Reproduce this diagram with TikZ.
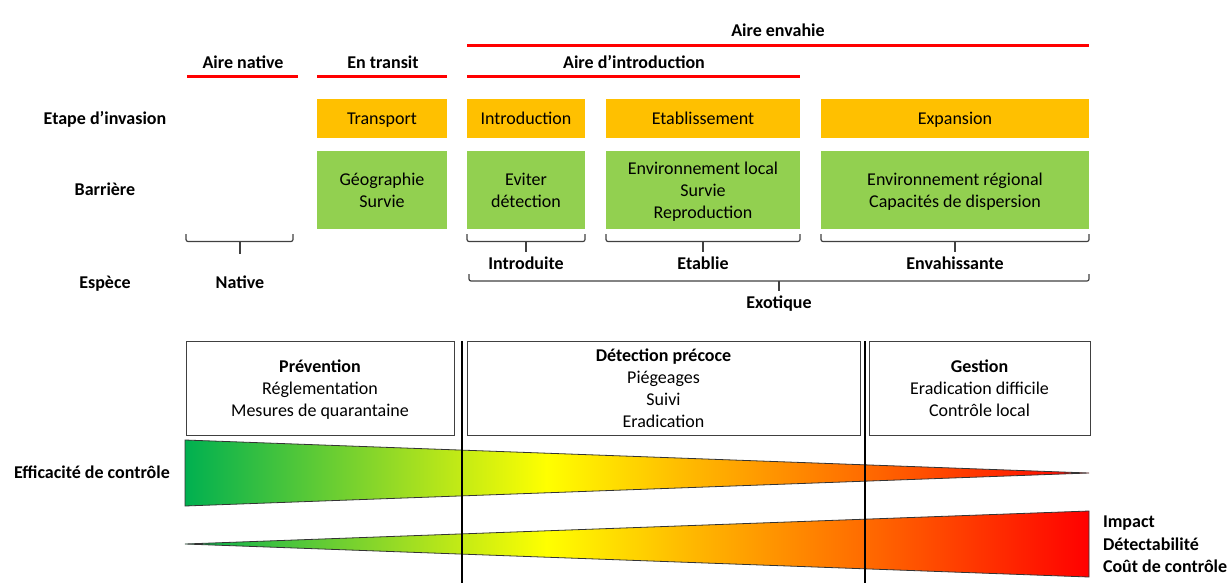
\documentclass[tikz,border=0pt]{standalone}
\usepackage{fontspec}
\setmainfont{Carlito}

\definecolor{stepOrange}{HTML}{FFC000}
\definecolor{barrierGreen}{HTML}{92D050}
\definecolor{bracketGray}{HTML}{404040}
\definecolor{controlGreen}{HTML}{00B050}
\definecolor{lightGreen}{HTML}{8ED828}
\definecolor{brightYellow}{HTML}{FFFF00}
\definecolor{amberOrange}{HTML}{FFC000}
\definecolor{deepOrange}{HTML}{FF7000}
\definecolor{pureRed}{HTML}{FF0000}

\pgfdeclarehorizontalshading{invasion}{100bp}{color(0bp)=(controlGreen); color(25bp)=(controlGreen); color(36bp)=(lightGreen); color(45bp)=(brightYellow); color(52bp)=(amberOrange); color(62bp)=(deepOrange); color(75bp)=(pureRed); color(100bp)=(pureRed)}

\begin{document}
\begin{tikzpicture}[x=0.5pt, y=-0.5pt,
    every node/.style={font=\fontsize{9}{11}\selectfont, inner sep=0pt, outer sep=0pt},
    boldText/.style={font=\fontsize{9}{11}\selectfont\bfseries, text height=7pt, text depth=1.2pt},
    areaLine/.style={red, line width=1.5pt},
    stepBox/.style={fill=stepOrange, minimum height=19.5pt, anchor=north west, text height=7pt, text depth=1.2pt},
    barrierBox/.style={fill=barrierGreen, minimum height=39pt, anchor=north west, align=center, text depth=0pt},
    bracket/.style={draw=bracketGray, line width=0.6pt, rounded corners=1pt},
    actionBox/.style={draw=bracketGray, line width=0.5pt, minimum height=47pt, anchor=north west, align=center, text depth=0pt},
    divider/.style={black, line width=1pt},
    wedge/.style={shading=invasion, draw=black!80, line width=0.4pt}]
    \useasboundingbox (0,0) rectangle (1231,583);

    % areas
    \node[boldText] (envahie) at (778,31) {Aire envahie};
    \draw[areaLine] (467,45.5) -- (1089,45.5);
    \node[boldText] (native) at (243,63) {Aire native};
    \draw[areaLine] (187,77) -- (298,77);
    \node[boldText] (transit) at (383,63) {En transit};
    \draw[areaLine] (317,77) -- (447,77);
    \node[boldText] (introArea) at (634,63) {Aire d’introduction};
    \draw[areaLine] (467,77) -- (800,77);

    % row labels
    \node[boldText] (etapeLabel) at (105,119) {Etape d’invasion};
    \node[boldText] (barriereLabel) at (105,190) {Barrière};
    \node[boldText] (especeLabel) at (105,283) {Espèce};

    % stages and barriers
    \node[stepBox, minimum width=65pt] (transport) at (317,99) {Transport};
    \node[stepBox, minimum width=59pt] (introduction) at (467,99) {Introduction};
    \node[stepBox, minimum width=97pt] (etablissement) at (606,99) {Etablissement};
    \node[stepBox, minimum width=134pt] (expansion) at (821,99) {Expansion};

    \node[barrierBox, minimum width=65pt] (geographie) at (317,151) {Géographie\\Survie};
    \node[barrierBox, minimum width=59pt] (eviter) at (467,151) {Eviter\\détection};
    \node[barrierBox, minimum width=97pt] (envLocal) at (606,151) {Environnement local\\Survie\\Reproduction};
    \node[barrierBox, minimum width=134pt] (envRegional) at (821,151) {Environnement régional\\Capacités de dispersion};

    % species
    \node[boldText] (nativeSp) at (240,283) {Native};
    \node[boldText] (introduite) at (526,264) {Introduite};
    \node[boldText] (etablie) at (703,264) {Etablie};
    \node[boldText] (envahissante) at (955,264) {Envahissante};
    \node[boldText] (exotique) at (779,303) {Exotique};

    \draw[bracket] (186,234) |- (240,241.5) -| (293,234);
    \draw[bracket] (240,241.5) -- (240,254);
    \foreach \b/\s in {eviter/introduite, envLocal/etablie, envRegional/envahissante} {
        \draw[bracket] ([yshift=-2.5pt]\b.south west) |- ([yshift=-6.25pt]\b.south) -| ([yshift=-2.5pt]\b.south east);
        \draw[bracket, shorten >=2pt] ([yshift=-6.25pt]\b.south) -- (\s.north);
    }
    \draw[bracket] (469,274) |- (779,281) -| (1089,274);
    \draw[bracket, shorten >=2pt] (779,281) -- (exotique.north);

    % control actions
    \node[actionBox, minimum width=134pt] (prevention) at (186,341) {\textbf{Prévention}\\Réglementation\\Mesures de quarantaine};
    \node[actionBox, minimum width=196.5pt] (detection) at (467,341) {\textbf{Détection précoce}\\Piégeages\\Suivi\\Eradication};
    \node[actionBox, minimum width=110.5pt] (gestion) at (869,341) {\textbf{Gestion}\\Eradication difficile\\Contrôle local};

    \shadedraw[wedge] (185,440) -- (1089,473) -- (185,506) -- cycle;
    \shadedraw[wedge] (185,544) -- (1089,511) -- (1089,577) -- cycle;

    \draw[divider] (462,341) -- (462,583);
    \draw[divider] (865,341) -- (865,583);

    \node[boldText] (efficacite) at (92,473) {Efficacité de contrôle};
    \node[boldText, anchor=west] (impact) at (1103,522) {Impact};
    \node[boldText, anchor=west] (detectabilite) at (1103,545) {Détectabilité};
    \node[boldText, anchor=west] (cout) at (1103,567) {Coût de contrôle};
\end{tikzpicture}
\end{document}
